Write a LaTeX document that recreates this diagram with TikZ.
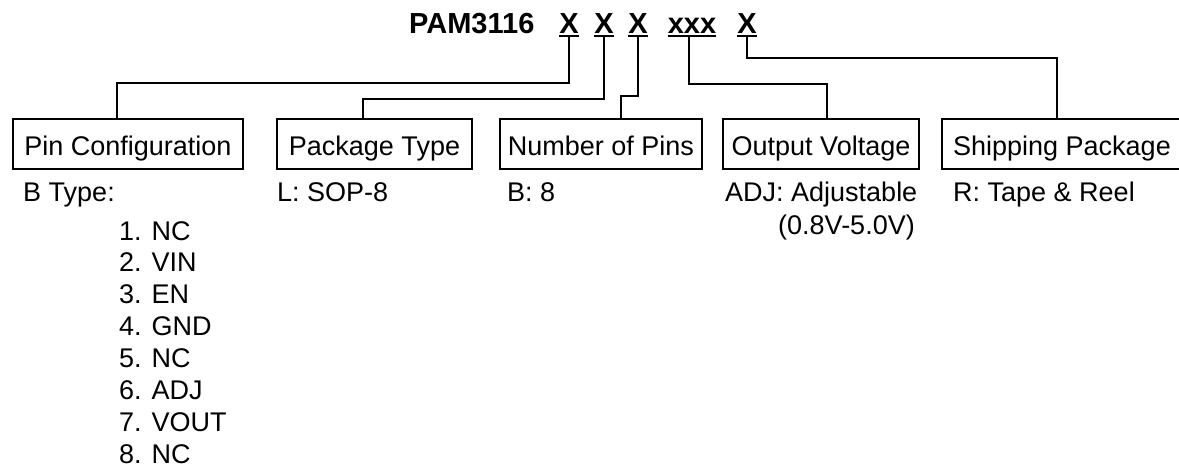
\documentclass[tikz,border=0pt]{standalone}
\usepackage{fontspec}
\setmainfont{Liberation Sans}
\begin{document}
\begin{tikzpicture}[x=1pt,y=-1pt,
  txt/.style={inner sep=0pt,anchor=base west,font=\fontsize{27}{31}\selectfont},
  ttl/.style={inner sep=0pt,anchor=base,font=\fontsize{29}{33}\selectfont\bfseries},
  boxnode/.style={draw,line width=2.2pt,inner sep=0pt,minimum height=50pt,text height=22pt,text depth=0pt,font=\fontsize{27}{31}\selectfont},
  conn/.style={line width=2.4pt},
  uline/.style={line width=2.4pt}]
\useasboundingbox (0,0) rectangle (1179,474);
% title
\node[ttl,anchor=base west] (pam) at (409,33) {PAM3116};
\node[ttl] (x1) at (569,33) {X};
\node[ttl] (x2) at (604,33) {X};
\node[ttl] (x3) at (638,33) {X};
\node[ttl] (x4) at (692,33) {xxx};
\node[ttl] (x5) at (747,33) {X};
\foreach \n in {x1,x2,x3,x4,x5}{
  \draw[uline] ([yshift=-3pt]\n.base west) -- ([yshift=-3pt]\n.base east);
}
% boxes
\node[boxnode,minimum width=230pt] (b1) at (128,144) {Pin Configuration};
\node[boxnode,minimum width=195pt] (b2) at (374.5,144) {Package Type};
\node[boxnode,minimum width=202pt] (b3) at (601,144) {Number of Pins};
\node[boxnode,minimum width=196pt] (b4) at (821,144) {Output Voltage};
\node[boxnode,minimum width=240pt] (b5) at (1062,144) {Shipping Package};
% connectors
\draw[conn] (x1.base |- 0,36) -- (x1.base |- 0,83) -| (117,0 |- b1.north);
\draw[conn] (x2.base |- 0,36) -- (x2.base |- 0,99) -| (363,0 |- b2.north);
\draw[conn] (x3.base |- 0,36) -- (x3.base |- 0,96) -| (621,0 |- b3.north);
\draw[conn] (689,36) -- (689,84) -| (827,0 |- b4.north);
\draw[conn] (x5.base |- 0,36) -- (x5.base |- 0,58) -| (1057,0 |- b5.north);
% descriptions
\node[txt] (d1) at (23,201) {B Type:};
\node[txt] (d2) at (277,201) {L: SOP-8};
\node[txt] (d3) at (507,201) {B: 8};
\node[txt] (d4) at (725,201) {ADJ: Adjustable};
\node[txt] (d4b) at (778,234) {(0.8V-5.0V)};
\node[txt] (d5) at (953,201) {R: Tape \& Reel};
\foreach \t [count=\i] in {NC,VIN,EN,GND,NC,ADJ,VOUT,NC}{
  \node[txt] (p\i) at (119,{240+31.9*(\i-1)}) {\i. \t};
}
\end{tikzpicture}
\end{document}
